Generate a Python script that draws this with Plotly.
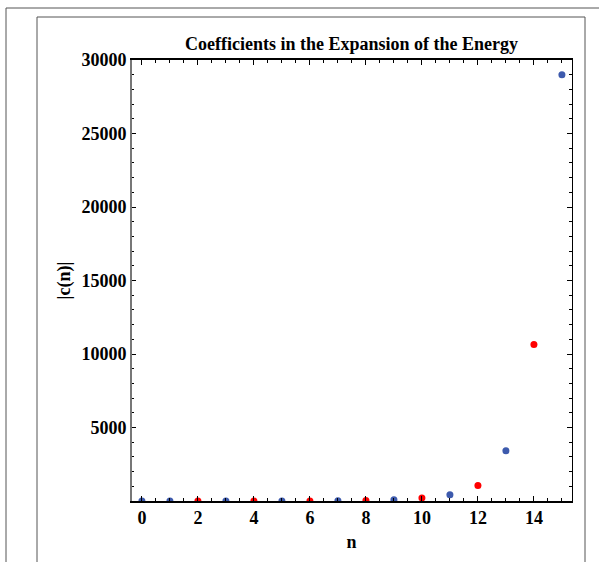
import plotly.graph_objects as go

n_blue = [0, 1, 3, 5, 7, 9, 11, 13, 15]
c_blue = [0.5, 0.1, 0.5, 2.5, 15, 90, 420, 3420, 29000]
n_red = [2, 4, 6, 8, 10, 12, 14]
c_red = [0.2, 1, 6, 35, 210, 1060, 10650]

x_ticks = [0, 2, 4, 6, 8, 10, 12, 14]
y_ticks = [5000, 10000, 15000, 20000, 25000, 30000]

FS = 18
font = dict(family="Liberation Serif", size=FS, color="black")

fig = go.Figure()
fig.add_trace(go.Scatter(x=n_blue, y=c_blue, mode="markers", cliponaxis=True,
                         marker=dict(color="#3d5aad", size=7), showlegend=False))
fig.add_trace(go.Scatter(x=n_red, y=c_red, mode="markers", cliponaxis=True,
                         marker=dict(color="#ff0000", size=7), showlegend=False))

W, H = 599, 562
l, r, t, b = 131, 27, 60, 61
pw, ph = W - l - r, H - t - b

def px(xp):
    return (xp - l) / pw

def py(yp):
    return (H - b - yp) / ph

shapes = [
    dict(type="line", xref="paper", yref="paper", x0=px(6), x1=px(599), y0=py(8), y1=py(8),
         line=dict(color="#555", width=1)),
    dict(type="line", xref="paper", yref="paper", x0=px(6), x1=px(6), y0=py(8), y1=py(562),
         line=dict(color="#555", width=1)),
    dict(type="line", xref="paper", yref="paper", x0=px(37), x1=px(585), y0=py(17), y1=py(17),
         line=dict(color="#555", width=1)),
    dict(type="line", xref="paper", yref="paper", x0=px(37), x1=px(37), y0=py(17), y1=py(562),
         line=dict(color="#555", width=1)),
    dict(type="line", xref="paper", yref="paper", x0=px(585), x1=px(585), y0=py(17), y1=py(562),
         line=dict(color="#555", width=1)),
]

fig.update_layout(
    width=W, height=H,
    margin=dict(l=l, r=r, t=t, b=b, pad=0),
    paper_bgcolor="white", plot_bgcolor="white",
    font=font,
    title=dict(text="<b>Coefficients in the Expansion of the Energy</b>",
               x=(l + pw / 2) / W, xanchor="center", y=1 - 44 / H, yanchor="middle",
               font=dict(family="Liberation Serif", size=18, color="black")),
    shapes=shapes,
    xaxis=dict(range=[-0.39, 15.36], tickvals=x_ticks, ticktext=[f"<b>{v}</b>" for v in x_ticks],
               showgrid=False, zeroline=False, showline=True, linecolor="black", linewidth=1.5,
               mirror="allticks", ticks="inside", ticklen=5, tickcolor="black",
               minor=dict(dtick=0.5, ticks="inside", ticklen=3, tickcolor="black", showgrid=False),
               title=dict(text="<b>n</b>", standoff=8, font=dict(family="Liberation Serif", size=FS)),
               tickfont=dict(family="Liberation Serif", size=FS)),
    yaxis=dict(range=[0, 30000], tickvals=y_ticks, ticktext=[f"<b>{v}</b>" for v in y_ticks],
               showgrid=False, zeroline=False, showline=True, linecolor="black", linewidth=1,
               mirror="allticks", ticks="inside", ticklen=5, tickcolor="black",
               minor=dict(dtick=1000, ticks="inside", ticklen=3, tickcolor="black", showgrid=False),
               title=dict(text="<b>|c(n)|</b>", standoff=6, font=dict(family="Liberation Serif", size=FS)),
               tickfont=dict(family="Liberation Serif", size=FS)),
)
fig.add_shape(type="line", xref="paper", yref="paper", x0=0, x1=0, y0=0, y1=1,
              line=dict(color="#777", width=2))

fig.write_html("out.html")
